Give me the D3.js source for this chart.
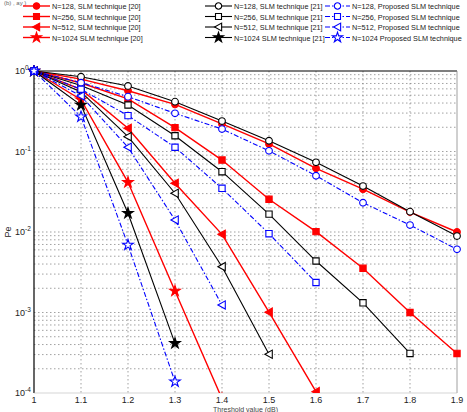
<!DOCTYPE html>
<html>
<head>
<meta charset="utf-8">
<script src="https://cdn.jsdelivr.net/npm/d3@7"></script>
<style>
  body { margin: 0; background: #fff; }
  svg { font-family: Arial, "Liberation Sans", sans-serif; }
</style>
</head>
<body>
<div id="chart"></div>
<script>
// x values (threshold) and tick labels
const xVals = [1, 1.1, 1.2, 1.3, 1.4, 1.5, 1.6, 1.7, 1.8, 1.9];
const xTicks = ["1", "1.1", "1.2", "1.3", "1.4", "1.5", "1.6", "1.7", "1.8", "1.9"];
const yTickExps = ["0", "-1", "-2", "-3", "-4"];

// SLM technique [20] (red, filled markers)
const ref20_128 = [1, 0.794, 0.569, 0.385, 0.220, 0.124, 0.0618, 0.034, 0.0177, 0.0100];
const ref20_256 = [1, 0.71, 0.45, 0.198, 0.0783, 0.0255, 0.0101, 0.00354, 0.0010, 0.00031];
const ref20_512 = [1, 0.59, 0.194, 0.0403, 0.00935, 0.00101, 0.000104];
const ref20_1024 = [1, 0.44, 0.0414, 0.00185, 0.000085];

// SLM technique [21] (black, open markers)
const ref21_128 = [1, 0.85, 0.652, 0.416, 0.239, 0.136, 0.0734, 0.0372, 0.0179, 0.0089];
const ref21_256 = [1, 0.66, 0.378, 0.157, 0.0561, 0.0167, 0.00436, 0.00132, 0.00031];
const ref21_512 = [1, 0.55, 0.153, 0.0303, 0.00371, 0.000303];
const ref21_1024 = [1, 0.378, 0.0171, 0.000414];

// Proposed SLM technique (blue, dash-dot)
const prop_128 = [1, 0.716, 0.48, 0.298, 0.19, 0.102, 0.050, 0.0231, 0.0122, 0.0061];
const prop_256 = [1, 0.593, 0.279, 0.113, 0.0349, 0.00953, 0.00236];
const prop_512 = [1, 0.49, 0.113, 0.0141, 0.00124];
const prop_1024 = [1, 0.27, 0.0069, 0.000138];

const legendLabels = [
    ["N=128, SLM technique [20]", "N=256, SLM technique [20]", "N=512, SLM technique [20]", "N=1024 SLM technique [20]"],
    ["N=128, SLM technique [21]", "N=256, SLM technique [21]", "N=512, SLM technique [21]", "N=1024 SLM technique [21]"],
    ["N=128, Proposed SLM technique", "N=256, Proposed SLM technique", "N=512, Proposed SLM technique", "N=1024 Proposed SLM technique"]
];

const groups = [
    { color: "#ff0000", dash: null, width: 1.4, fill: "#ff0000", series: [ref20_128, ref20_256, ref20_512, ref20_1024] },
    { color: "#000000", dash: null, width: 1.1, fill: "#ffffff", series: [ref21_128, ref21_256, ref21_512, ref21_1024] },
    { color: "#0000ff", dash: "5,2,1.5,2", width: 1.1, fill: "#ffffff", series: [prop_128, prop_256, prop_512, prop_1024] }
];

const W = 467, H = 412;
const margin = { top: 71, right: 10, bottom: 19, left: 34 };

let svg = d3.select("#chart").append("svg")
    .attr("width", W)
    .attr("height", H);

let x = d3.scaleLinear().domain([1, 1.9]).range([margin.left, W - margin.right]);
let y = d3.scaleLog().domain([1e-4, 1]).range([H - margin.bottom, margin.top]);

let x0 = x.range()[0], x1 = x.range()[1], y0 = y.range()[1], y1 = y.range()[0];

// markers
function markerPath(k, size) {
    if (k === 0) return d3.symbol().type(d3.symbolCircle).size(size * 0.8)();
    if (k === 1) return d3.symbol().type(d3.symbolSquare).size(size * 0.9)();
    if (k === 2) {
        let r = Math.sqrt(size) * 0.62;
        return "M" + (-r) + ",0L" + (r * 0.8) + "," + (-r) + "L" + (r * 0.8) + "," + r + "Z";
    }
    return d3.symbol().type(d3.symbolStar).size(size * 0.8)();
}

// grid
let grid = svg.append("g").attr("stroke", "#444").attr("stroke-width", 0.7)
    .attr("stroke-dasharray", "1.5,2.5").attr("opacity", 0.7);

xVals.slice(1, -1).forEach(v => {
    grid.append("line").attr("x1", x(v)).attr("x2", x(v)).attr("y1", y0).attr("y2", y1);
});
for (let e = -4; e < 0; e++) {
    for (let m = 1; m < 10; m++) {
        let v = m * Math.pow(10, e);
        if (m === 1 && e === -4) continue;
        grid.append("line").attr("x1", x0).attr("x2", x1).attr("y1", y(v)).attr("y2", y(v));
    }
}

// axes box
svg.append("line").attr("x1", x0).attr("x2", x1).attr("y1", y0).attr("y2", y0).attr("stroke", "#000").attr("stroke-width", 1.2);
svg.append("line").attr("x1", x0).attr("x2", x0).attr("y1", y0).attr("y2", y1).attr("stroke", "#000").attr("stroke-width", 1.2);
svg.append("line").attr("x1", x1).attr("x2", x1).attr("y1", y0).attr("y2", y1).attr("stroke", "#888").attr("stroke-width", 0.8);
svg.append("line").attr("x1", x0).attr("x2", x1).attr("y1", y1).attr("y2", y1).attr("stroke", "#bbb").attr("stroke-width", 0.6);

// tick labels
let xAxis = svg.append("g").attr("font-size", 9).attr("fill", "#222").attr("text-anchor", "middle");
xVals.forEach((v, i) => {
    xAxis.append("text").attr("x", x(v)).attr("y", y1 + 10).text(xTicks[i]);
});

let yAxis = svg.append("g").attr("font-size", 9).attr("fill", "#222");
yTickExps.forEach(e => {
    let t = yAxis.append("text").attr("x", 15).attr("y", y(Math.pow(10, +e)) + 3);
    t.append("tspan").text("10");
    t.append("tspan").attr("font-size", 6.5).attr("dy", -4).text(e);
});

svg.append("text")
    .attr("transform", "translate(11," + y(0.01) + ") rotate(-90)")
    .attr("text-anchor", "middle").attr("font-size", 9).attr("fill", "#222")
    .text("Pe");

svg.append("text").attr("x", (x0 + x1) / 2).attr("y", 411.5)
    .attr("text-anchor", "middle").attr("font-size", 7).attr("fill", "#444")
    .text("Threshold value (dB)");

svg.append("text").attr("x", 4).attr("y", 5).attr("font-size", 6).attr("fill", "#666").text("(b) , ay )");

// series
svg.append("clipPath").attr("id", "plotclip").append("rect")
    .attr("x", x0 - 6).attr("y", y0 - 6).attr("width", x1 - x0 + 12).attr("height", y1 - y0 + 6);

let plot = svg.append("g").attr("clip-path", "url(#plotclip)");

let line = d3.line()
    .x((d, i) => x(xVals[i]))
    .y(d => y(d));

groups.forEach(g => {
    g.series.forEach((s, k) => {
        plot.append("path")
            .datum(s)
            .attr("fill", "none")
            .attr("stroke", g.color)
            .attr("stroke-width", g.width)
            .attr("stroke-dasharray", g.dash)
            .attr("d", line);

        plot.selectAll(null)
            .data(s)
            .join("path")
            .attr("transform", (d, i) => "translate(" + x(xVals[i]) + "," + y(d) + ")")
            .attr("d", markerPath(k, 44))
            .attr("fill", (g.color === "#000000" && k === 3) ? "#000" : g.fill)
            .attr("stroke", g.color)
            .attr("stroke-width", 1.1);
    });
});

// legend
let legendX = [23, 205, 325];
let legendRowY = [6, 16.5, 27, 37.5];
groups.forEach((g, c) => {
    legendLabels[c].forEach((label, k) => {
        let lx = legendX[c], ly = legendRowY[k];
        let lw = c === 2 ? 25 : 27;
        svg.append("line")
            .attr("x1", lx).attr("x2", lx + lw).attr("y1", ly).attr("y2", ly)
            .attr("stroke", g.color).attr("stroke-width", g.width)
            .attr("stroke-dasharray", g.dash);
        svg.append("path")
            .attr("transform", "translate(" + (lx + lw / 2) + "," + ly + ")")
            .attr("d", markerPath(k, 40))
            .attr("fill", (g.color === "#000000" && k === 3) ? "#000" : g.fill)
            .attr("stroke", g.color).attr("stroke-width", 1.1);
        svg.append("text")
            .attr("x", lx + lw + 2).attr("y", ly + 3)
            .attr("font-size", 7.3).attr("fill", "#222")
            .text(label);
    });
});
</script>
</body>
</html>
